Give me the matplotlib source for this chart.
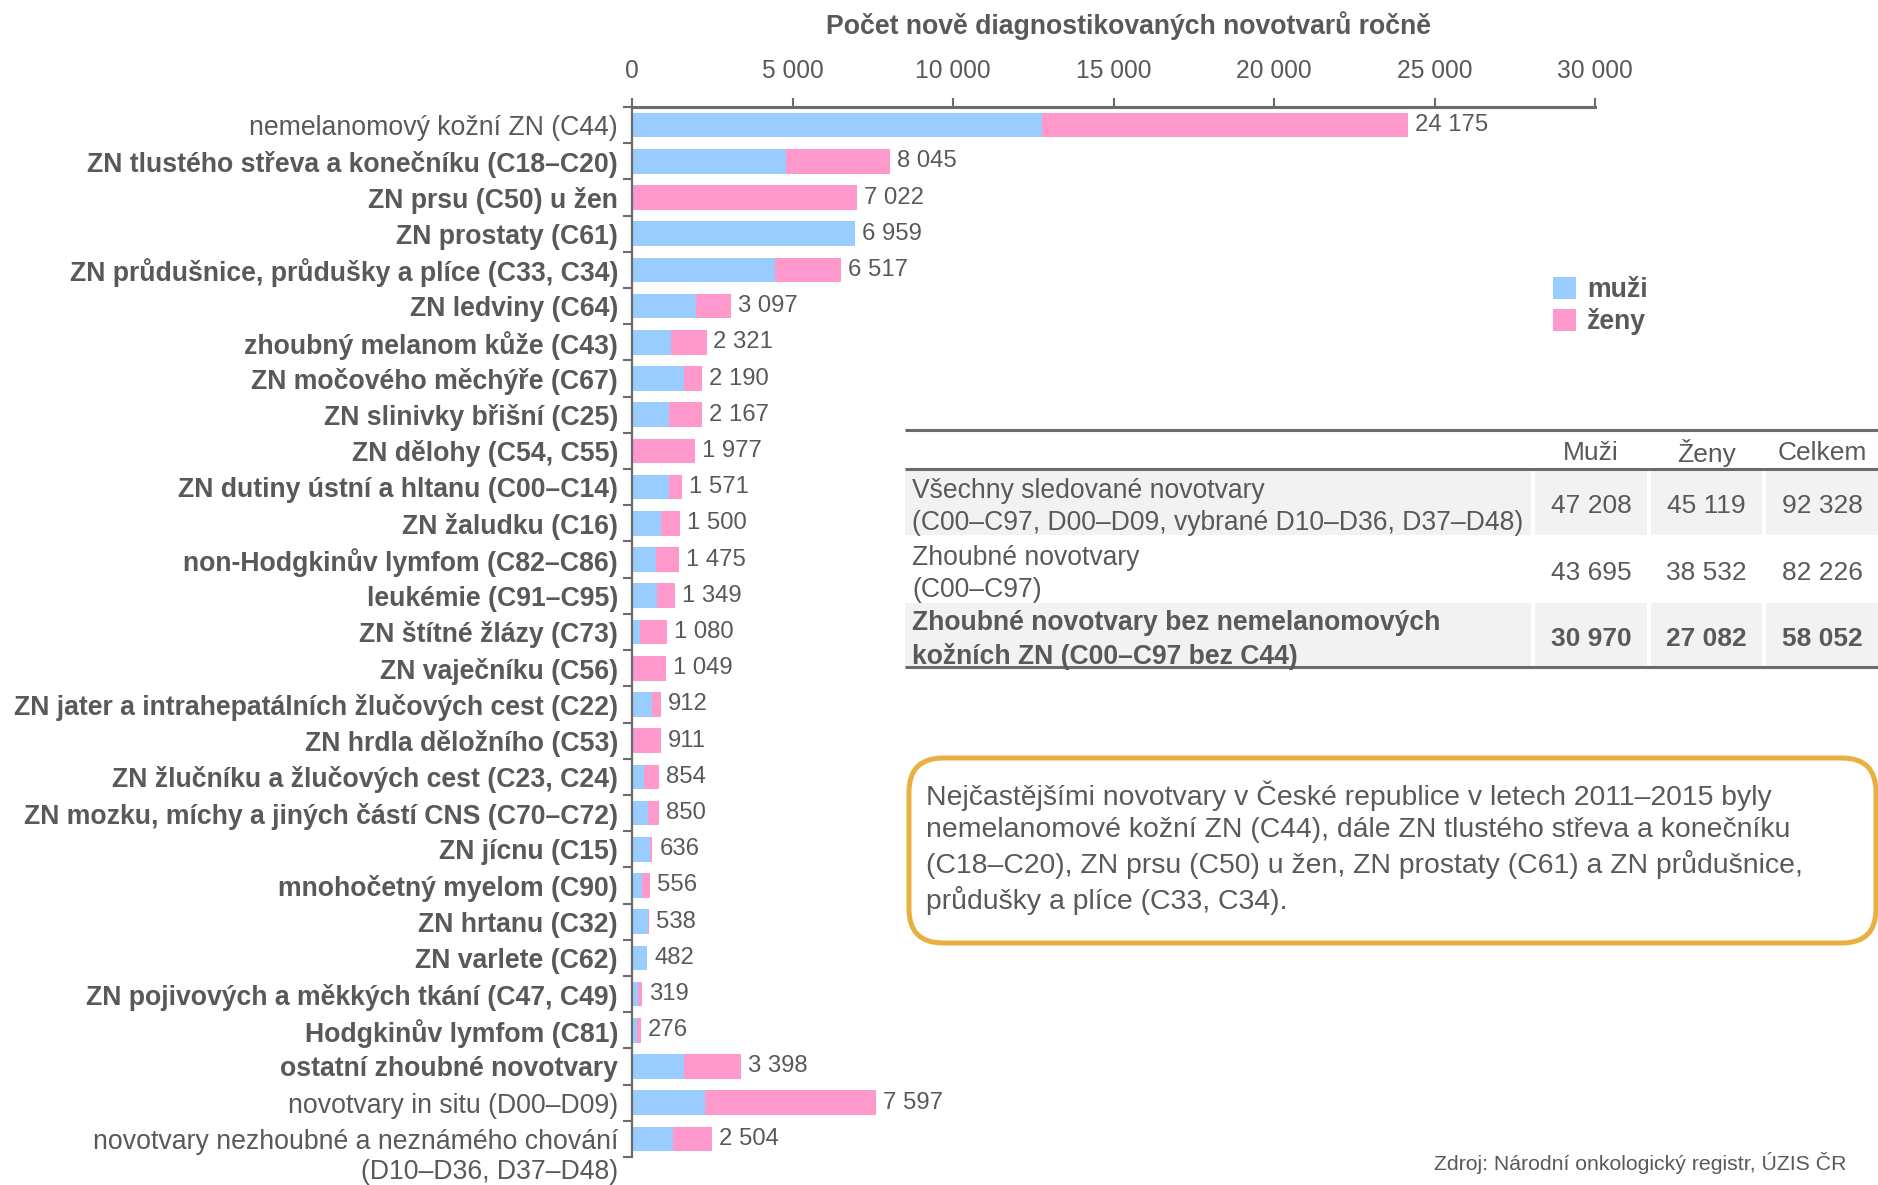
import matplotlib
matplotlib.use("Agg")
import matplotlib.pyplot as plt
from matplotlib.patches import FancyBboxPatch, Rectangle

W, H = 1878, 1185
GREY = "#595959"
LINE = "#6b6b6b"
BLUE = "#99ccff"
PINK = "#ff99cc"

plt.rcParams["font.family"] = ["Liberation Sans", "DejaVu Sans"]

categories = [
    "nemelanomový kožní ZN (C44)",
    "ZN tlustého střeva a konečníku (C18–C20)",
    "ZN prsu (C50) u žen",
    "ZN prostaty (C61)",
    "ZN průdušnice, průdušky a plíce (C33, C34)",
    "ZN ledviny (C64)",
    "zhoubný melanom kůže (C43)",
    "ZN močového měchýře (C67)",
    "ZN slinivky břišní (C25)",
    "ZN dělohy (C54, C55)",
    "ZN dutiny ústní a hltanu (C00–C14)",
    "ZN žaludku (C16)",
    "non-Hodgkinův lymfom (C82–C86)",
    "leukémie (C91–C95)",
    "ZN štítné žlázy (C73)",
    "ZN vaječníku (C56)",
    "ZN jater a intrahepatálních žlučových cest (C22)",
    "ZN hrdla děložního (C53)",
    "ZN žlučníku a žlučových cest (C23, C24)",
    "ZN mozku, míchy a jiných částí CNS (C70–C72)",
    "ZN jícnu (C15)",
    "mnohočetný myelom (C90)",
    "ZN hrtanu (C32)",
    "ZN varlete (C62)",
    "ZN pojivových a měkkých tkání (C47, C49)",
    "Hodgkinův lymfom (C81)",
    "ostatní zhoubné novotvary",
    "novotvary in situ (D00–D09)",
    "novotvary nezhoubné a neznámého chování",
]
label_extra = "(D10–D36, D37–D48)"
regular_labels = [0, 27, 28]

men = [12760, 4790, 0, 6959, 4455, 1985, 1215, 1610, 1150, 0,
       1150, 900, 740, 780, 240, 0, 610, 0, 365, 490,
       550, 300, 488, 482, 175, 155, 1610, 2275, 1280]
women = [11415, 3255, 7022, 0, 2062, 1112, 1106, 580, 1017, 1977,
         421, 600, 735, 569, 840, 1049, 302, 911, 489, 360,
         86, 256, 50, 0, 144, 121, 1788, 5322, 1224]

table_cols = ["Muži", "Ženy", "Celkem"]
table_rows = [
    "Všechny sledované novotvary\n(C00–C97, D00–D09, vybrané D10–D36, D37–D48)",
    "Zhoubné novotvary\n(C00–C97)",
    "Zhoubné novotvary bez nemelanomových\nkožních ZN (C00–C97 bez C44)",
]
table_men = [47208, 43695, 30970]
table_women = [45119, 38532, 27082]
table_total = [92328, 82226, 58052]

title = "Počet nově diagnostikovaných novotvarů ročně"
note = ("Nejčastějšími novotvary v České republice v letech 2011–2015 byly\n"
        "nemelanomové kožní ZN (C44), dále ZN tlustého střeva a konečníku\n"
        "(C18–C20), ZN prsu (C50) u žen, ZN prostaty (C61) a ZN průdušnice,\n"
        "průdušky a plíce (C33, C34).")
source = "Zdroj: Národní onkologický registr, ÚZIS ČR"


def fmt(v):
    return f"{v:,}".replace(",", " ")


fig = plt.figure(figsize=(W / 100, H / 100), dpi=100)

# overlay in pixel coordinates for the table and the note box
ov = fig.add_axes([0, 0, 1, 1])
ov.set_xlim(0, W)
ov.set_ylim(H, 0)
ov.axis("off")

ax = fig.add_axes([632 / W, 1 - 1157 / H, (1595 - 632) / W, (1157 - 107) / H])
ypos = list(range(len(categories)))
totals = [m + f for m, f in zip(men, women)]
bm = ax.barh(ypos, men, height=0.68, color=BLUE, label="muži")
bf = ax.barh(ypos, women, left=men, height=0.68, color=PINK, label="ženy")
for y, t in zip(ypos, totals):
    ax.annotate(fmt(t), (t, y), xytext=(5, 0), textcoords="offset points",
                va="center", ha="left", fontsize=17.2, color=GREY)

ax.set_xlim(0, 30000)
ax.set_ylim(len(categories) - 0.5, -0.5)
ax.xaxis.tick_top()
xt = list(range(0, 30001, 5000))
ax.set_xticks(xt, [fmt(v) for v in xt])
ax.tick_params(axis="x", length=6.5, width=1.5, color=LINE, pad=11,
               labelsize=17.7, labelcolor=GREY)
ax.set_yticks(ypos, categories)
ax.set_yticks([i - 0.5 for i in range(len(categories) + 1)], minor=True)
ax.tick_params(axis="y", which="major", length=0, pad=10, labelsize=19.2,
               labelcolor=GREY)
ax.tick_params(axis="y", which="minor", length=6.5, width=1.5, color=LINE)
for i, lab in enumerate(ax.get_yticklabels()):
    lab.set_fontweight("normal" if i in regular_labels else "bold")
ax.annotate(label_extra, (0, len(categories) - 1), xycoords=("axes fraction", "data"),
            xytext=(-10, -24), textcoords="offset points", ha="right", va="center",
            fontsize=19.2, color=GREY)
for s in ["right", "bottom"]:
    ax.spines[s].set_visible(False)
ax.spines["top"].set_linewidth(2.2)
ax.spines["left"].set_linewidth(1.6)
ax.spines["top"].set_color(LINE)
ax.spines["left"].set_color(LINE)
ax.set_facecolor("none")

fig.text(1128 / W, 1 - 26 / H, title, ha="center", va="center",
         fontsize=19.2, fontweight="bold", color=GREY)

fig.legend(handles=[bm, bf], loc="upper left", bbox_to_anchor=(1553 / W, 1 - 277 / H),
           frameon=False, prop={"weight": "bold", "size": 19.2}, labelcolor=GREY,
           handlelength=0.87, handleheight=0.87, labelspacing=0.2,
           handletextpad=0.4, borderpad=0, borderaxespad=0)

# table
row_top = [469, 535, 603]
row_bot = [535, 603, 667]
cell_x = [(905, 1531), (1535, 1647), (1651, 1762), (1766, 1878)]
for r in range(len(table_rows)):
    bold = r == 2
    if r != 1:
        for x0, x1 in cell_x:
            ov.add_patch(Rectangle((x0, row_top[r]), x1 - x0, row_bot[r] - row_top[r],
                                   color="#f2f2f2", lw=0))
    yc = (row_top[r] + row_bot[r]) / 2
    ov.text(912, yc + 5, table_rows[r], ha="left", va="center", fontsize=19.1,
            color=GREY, fontweight="bold" if bold else "normal", linespacing=1.3)
    for (x0, x1), v in zip(cell_x[1:], [table_men[r], table_women[r], table_total[r]]):
        ov.text((x0 + x1) / 2, yc + 4, fmt(v), ha="center", va="center", fontsize=19,
                color=GREY, fontweight="bold" if bold else "normal")
for (x0, x1), c in zip(cell_x[1:], table_cols):
    ov.text((x0 + x1) / 2, 453, c, ha="center", va="center", fontsize=19, color=GREY)
for y in (430, 469, 667):
    ov.plot([905, W], [y, y], color=LINE, lw=2.2, solid_capstyle="butt")

# note box
ov.add_patch(FancyBboxPatch((909, 758), 1876 - 909, 943 - 758,
                            boxstyle="round,pad=0,rounding_size=34",
                            fc="white", ec="#e8b040", lw=3.6))
ov.text(926, 848, note, ha="left", va="center", fontsize=20.4, color=GREY,
        linespacing=1.3)

fig.text(1846 / W, 1 - 1163 / H, source, ha="right", va="center",
         fontsize=15.3, color=GREY)

fig.savefig("out.png", dpi=100)
